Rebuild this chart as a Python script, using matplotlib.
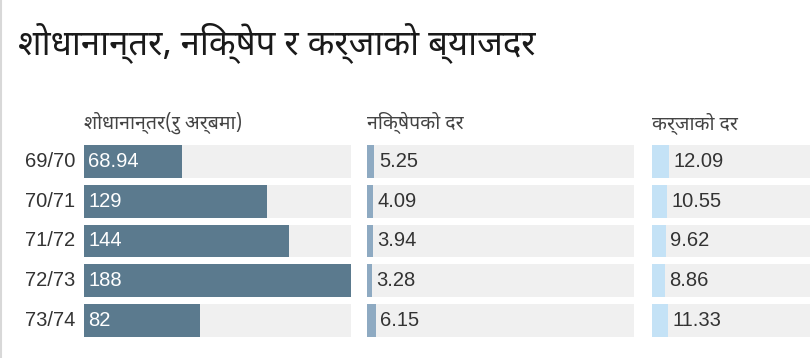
import matplotlib
matplotlib.use("Agg")
import matplotlib.pyplot as plt
from matplotlib.lines import Line2D

years = ["69/70", "70/71", "71/72", "72/73", "73/74"]
remittance = [68.94, 129, 144, 188, 82]
deposit_rate = [5.25, 4.09, 3.94, 3.28, 6.15]
loan_rate = [12.09, 10.55, 9.62, 8.86, 11.33]

title = "शोधानान्तर, निक्षेप र कर्जाको ब्याजदर"
headers = ["शोधानान्तर(रु अर्बमा)", "निक्षेपको दर", "कर्जाको दर"]

DEV = ["Noto Sans Devanagari", "Noto Sans", "Liberation Sans"]
NUM = ["Liberation Sans", "DejaVu Sans"]

W, H = 810, 358
fig = plt.figure(figsize=(W / 100, H / 100), dpi=100)
fig.patch.set_facecolor("white")

# left border line
fig.add_artist(Line2D([1.0 / W, 1.0 / W], [0, 1], transform=fig.transFigure,
                      color="#d8d8d8", lw=1.5))

fig.text(18 / W, 1 - 43 / H, title, family=DEV, fontsize=25, color="#1a1a1a",
         ha="left", va="center")

scale_max = max(remittance)
panels = [
    (84, remittance, "#5b7a8e", "inside"),
    (367, deposit_rate, "#8eaac2", "outside"),
    (652, loan_rate, "#c4e2f6", "outside"),
]
panel_w = 267
top_px, bot_px = 141.5, 340.5
pos = list(range(len(years)))

for i, (x0, vals, col, mode) in enumerate(panels):
    ax = fig.add_axes([x0 / W, 1 - bot_px / H, panel_w / W, (bot_px - top_px) / H])
    ax.set_xlim(0, scale_max)
    ax.set_ylim(len(years) - 0.5, -0.5)
    ax.axis("off")
    ax.barh(pos, [scale_max] * len(pos), height=0.825, color="#f0f0f0", lw=0)
    ax.barh(pos, vals, height=0.825, color=col, lw=0)
    for p, v in zip(pos, vals):
        s = f"{v:g}"
        if mode == "inside":
            ax.annotate(s, (0, p), xytext=(3, 0), textcoords="offset points",
                        ha="left", va="center", fontsize=14.5, color="white",
                        family=NUM)
        else:
            ax.annotate(s, (v, p), xytext=(3.2, 0), textcoords="offset points",
                        ha="left", va="center", fontsize=14.5, color="#333333",
                        family=NUM)
    fig.text(x0 / W, 1 - 123 / H, headers[i], family=DEV,
             fontsize=14, color="#444444", ha="left", va="center")
    if i == 0:
        for p, y in zip(pos, years):
            ax.annotate(y, (0, p), xytext=(-6.5, 0), textcoords="offset points",
                        ha="right", va="center", fontsize=14.5, color="#333333",
                        family=NUM)

fig.savefig("out.png", dpi=100)
